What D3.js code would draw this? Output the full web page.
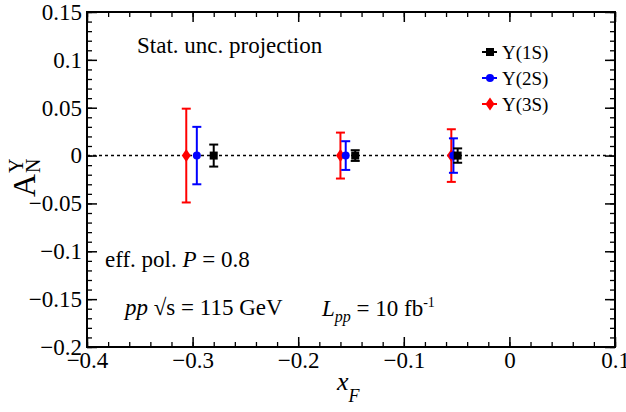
<!DOCTYPE html>
<html>
  <head>
    <meta charset="utf-8">
    <title>A_N projection</title>
    <script src="https://d3js.org/d3.v7.min.js"></script>
    <style>
      body { margin: 0; background: #fff; }
    </style>
  </head>
  <body>
    <script>
      // data
      var seriesNames = ["\u03A5(1S)", "\u03A5(2S)", "\u03A5(3S)"];
      var seriesColors = ["#000000", "#0000ff", "#ff0000"];
      var xF1S = [-0.280, -0.146, -0.049];
      var xF2S = [-0.296, -0.155, -0.053];
      var xF3S = [-0.306, -0.160, -0.055];
      var an1S = [0, 0, 0];
      var an2S = [0, 0, 0];
      var an3S = [0, 0, 0];
      var err1S = [0.0115, 0.0056, 0.0075];
      var err2S = [0.030, 0.015, 0.018];
      var err3S = [0.049, 0.024, 0.0275];

      var xTicks = [-0.4, -0.3, -0.2, -0.1, 0, 0.1];
      var xTickLabels = ["\u22120.4", "\u22120.3", "\u22120.2", "\u22120.1", "0", "0.1"];
      var yTicks = [-0.2, -0.15, -0.1, -0.05, 0, 0.05, 0.1, 0.15];
      var yTickLabels = ["\u22120.2", "\u22120.15", "\u22120.1", "\u22120.05", "0", "0.05", "0.1", "0.15"];
      var xMinor = d3.range(-0.4, 0.1001, 0.02);
      var yMinor = d3.range(-0.2, 0.1501, 0.01);

      var W = 626, H = 412;
      var pLeft = 87, pRight = 615, pTop = 12, pBottom = 347;
      var serif = "'Liberation Serif', 'Times New Roman', Times, serif";

      var svg = d3.select("body").append("svg")
        .attr("width", W).attr("height", H);

      var x = d3.scaleLinear().domain([-0.4, 0.1]).range([pLeft, pRight]);
      var y = d3.scaleLinear().domain([-0.2, 0.15]).range([pBottom, pTop]);

      function styleAxis(g, width) {
        g.select(".domain").remove();
        g.selectAll("line").attr("stroke", "#000").attr("stroke-width", width);
        g.selectAll("text").attr("font-size", 23).attr("fill", "#000");
      }

      // minor ticks on all four sides
      svg.append("g").attr("transform", "translate(0," + pBottom + ")")
        .call(d3.axisBottom(x).tickValues(xMinor).tickSize(-5).tickFormat(""))
        .call(styleAxis, 1.3);
      svg.append("g").attr("transform", "translate(0," + pTop + ")")
        .call(d3.axisTop(x).tickValues(xMinor).tickSize(-5).tickFormat(""))
        .call(styleAxis, 1.3);
      svg.append("g").attr("transform", "translate(" + pLeft + ",0)")
        .call(d3.axisLeft(y).tickValues(yMinor).tickSize(-5).tickFormat(""))
        .call(styleAxis, 1.3);
      svg.append("g").attr("transform", "translate(" + pRight + ",0)")
        .call(d3.axisRight(y).tickValues(yMinor).tickSize(-5).tickFormat(""))
        .call(styleAxis, 1.3);

      // major ticks
      svg.append("g").attr("transform", "translate(0," + pBottom + ")")
        .call(d3.axisBottom(x).tickValues(xTicks).tickSize(-10).tickPadding(5)
          .tickFormat(function(d, i) { return xTickLabels[i]; }))
        .call(styleAxis, 1.5);
      svg.append("g").attr("transform", "translate(0," + pTop + ")")
        .call(d3.axisTop(x).tickValues(xTicks).tickSize(-10).tickFormat(""))
        .call(styleAxis, 1.5);
      svg.append("g").attr("transform", "translate(" + pLeft + ",0)")
        .call(d3.axisLeft(y).tickValues(yTicks).tickSize(-10).tickPadding(5)
          .tickFormat(function(d, i) { return yTickLabels[i]; }))
        .call(styleAxis, 1.5);
      svg.append("g").attr("transform", "translate(" + pRight + ",0)")
        .call(d3.axisRight(y).tickValues(yTicks).tickSize(-10).tickFormat(""))
        .call(styleAxis, 1.5);

      // frame
      svg.append("rect")
        .attr("x", pLeft).attr("y", pTop)
        .attr("width", pRight - pLeft).attr("height", pBottom - pTop)
        .attr("fill", "none").attr("stroke", "#000").attr("stroke-width", 2);

      // zero line
      svg.append("line")
        .attr("x1", x(-0.4)).attr("x2", x(0.1))
        .attr("y1", y(0)).attr("y2", y(0))
        .attr("stroke", "#000").attr("stroke-width", 1.5)
        .attr("stroke-dasharray", "3,3");

      var series = [
        { xs: xF3S, ys: an3S, es: err3S, color: seriesColors[2], shape: "diamond" },
        { xs: xF2S, ys: an2S, es: err2S, color: seriesColors[1], shape: "circle" },
        { xs: xF1S, ys: an1S, es: err1S, color: seriesColors[0], shape: "square" }
      ];

      function marker(g, shape, color) {
        if (shape === "square") {
          g.append("rect").attr("x", -4).attr("y", -4).attr("width", 8).attr("height", 8)
            .attr("fill", color);
        } else if (shape === "circle") {
          g.append("circle").attr("r", 4).attr("fill", color);
        } else {
          g.append("path").attr("d", "M0,-6.5L4.5,0L0,6.5L-4.5,0Z").attr("fill", color);
        }
      }

      series.forEach(function(s) {
        var pts = s.xs.map(function(v, i) { return { x: v, y: s.ys[i], e: s.es[i] }; });
        var g = svg.append("g").selectAll("g").data(pts).enter().append("g");
        g.append("line")
          .attr("x1", function(d) { return x(d.x); }).attr("x2", function(d) { return x(d.x); })
          .attr("y1", function(d) { return y(d.y + d.e); }).attr("y2", function(d) { return y(d.y - d.e); })
          .attr("stroke", s.color).attr("stroke-width", 2);
        [1, -1].forEach(function(sign) {
          g.append("line")
            .attr("x1", function(d) { return x(d.x) - 4.5; }).attr("x2", function(d) { return x(d.x) + 4.5; })
            .attr("y1", function(d) { return y(d.y + sign * d.e); }).attr("y2", function(d) { return y(d.y + sign * d.e); })
            .attr("stroke", s.color).attr("stroke-width", 2);
        });
        g.each(function(d) {
          var m = d3.select(this).append("g")
            .attr("transform", "translate(" + x(d.x) + "," + y(d.y) + ")");
          marker(m, s.shape, s.color);
        });
      });

      // legend
      var legendShapes = ["square", "circle", "diamond"];
      var leg = svg.append("g").selectAll("g").data(seriesNames).enter().append("g")
        .attr("transform", function(d, i) { return "translate(490," + (52 + i * 26) + ")"; });
      leg.append("line").attr("x1", -8).attr("x2", 7)
        .attr("stroke", function(d, i) { return seriesColors[i]; }).attr("stroke-width", 2);
      leg.each(function(d, i) { marker(d3.select(this), legendShapes[i], seriesColors[i]); });
      leg.append("text").attr("x", 12).attr("y", 7).attr("font-size", 19)
        .text(function(d) { return d; });

      // annotations
      svg.append("text").attr("x", 137).attr("y", 53).attr("font-size", 23)
        .text("Stat. unc. projection");

      var t1 = svg.append("text").attr("x", 105).attr("y", 267).attr("font-size", 23);
      t1.append("tspan").text("eff. pol. ");
      t1.append("tspan").attr("font-style", "italic").text("P");
      t1.append("tspan").text(" = 0.8");

      var t2 = svg.append("text").attr("x", 125).attr("y", 315).attr("font-size", 23);
      t2.append("tspan").attr("font-style", "italic").text("pp");
      t2.append("tspan").text(" \u221As = 115 GeV");

      var t3 = svg.append("text").attr("x", 322).attr("y", 316).attr("font-size", 23);
      t3.append("tspan").attr("font-style", "italic").text("L");
      t3.append("tspan").attr("font-style", "italic").attr("font-size", 16).attr("dy", 6).text("pp");
      t3.append("tspan").attr("dy", -6).text(" = 10 fb");
      t3.append("tspan").attr("font-size", 14).attr("dy", -9).text("-1");

      // axis titles
      var xt = svg.append("text").attr("x", 337).attr("y", 390).attr("font-size", 26)
        .attr("font-style", "italic");
      xt.append("tspan").text("x");
      xt.append("tspan").attr("font-size", 18).attr("dy", 12).text("F");

      var yt = svg.append("g").attr("transform", "translate(35,197) rotate(-90)");
      yt.append("text").attr("x", 0).attr("y", 0).attr("font-size", 32).text("A");
      yt.append("text").attr("x", 24).attr("y", -12).attr("font-size", 20).text("\u03A5");
      yt.append("text").attr("x", 24).attr("y", 5).attr("font-size", 20).text("N");

      // Times-like face for every label
      svg.selectAll("text").style("font-family", serif);
    </script>
  </body>
</html>
